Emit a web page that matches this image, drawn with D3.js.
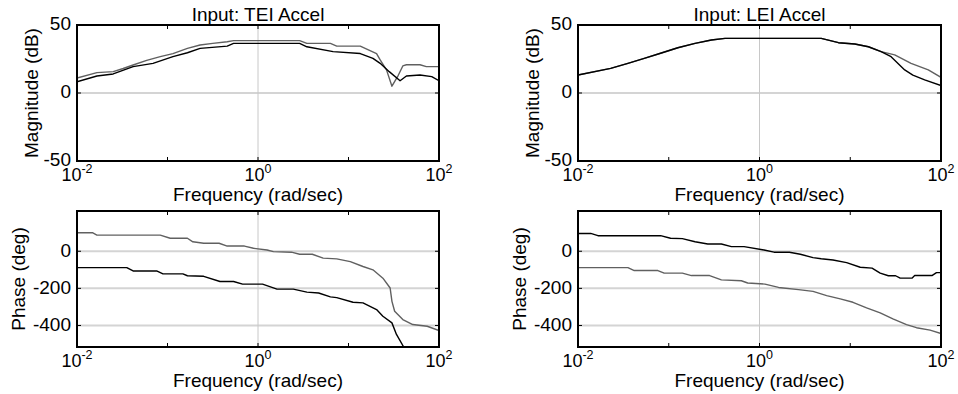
<!DOCTYPE html>
<html>
<head>
<meta charset="utf-8">
<script src="https://cdn.jsdelivr.net/npm/d3@7"></script>
<style>
  body { margin: 0; background: #fff; }
  svg text { font-family: Arial, "Liberation Sans", Helvetica, sans-serif; fill: #000; }
</style>
</head>
<body>
<svg width="958" height="394"></svg>
<script>
// frequencies are stored as log10(rad/sec)
const teiMagGrayW = [-2, -1.78, -1.6, -1.49, -1.38, -1.23, -1.08, -0.94, -0.78, -0.64, -0.5, -0.34, -0.27, 0, 0.46, 0.54, 0.8, 0.87, 1.13, 1.31, 1.35, 1.42, 1.48, 1.55, 1.6, 1.64, 1.79, 1.86, 2];
const teiMagGray  = [11, 15, 15.7, 18, 20.6, 24, 26.7, 29, 32.8, 35.3, 36.5, 37.7, 38.5, 38.5, 38.5, 36.5, 36.5, 34.5, 34.5, 29, 24.3, 17, 5, 13, 19.9, 20.8, 20.8, 19.4, 19.4];
const teiMagBlackW = [-2, -1.78, -1.6, -1.38, -1.16, -0.94, -0.78, -0.64, -0.34, -0.27, 0, 0.46, 0.54, 0.83, 1.13, 1.27, 1.35, 1.45, 1.57, 1.64, 1.79, 1.92, 2];
const teiMagBlack  = [8.3, 12.5, 14, 19.4, 21.8, 26.7, 29.6, 32.8, 34.5, 36.5, 36.5, 36.5, 34, 30.4, 29, 25.5, 21.8, 15.7, 9, 12.5, 13.2, 12, 9];

const leiMagW = [-2, -1.64, -1.45, -1.27, -1.09, -0.9, -0.71, -0.53, -0.38, 0, 0.68, 0.87, 1.05, 1.2, 1.34];
const leiMag  = [13.2, 18.1, 21.8, 25.5, 29.2, 33.3, 36.5, 39, 40.2, 40.2, 40.2, 37, 36, 34, 30.4];
const leiMagGrayTailW = [1.49, 1.67, 1.86, 2];
const leiMagGrayTail  = [28, 21.8, 17, 11.5];
const leiMagBlackTailW = [1.45, 1.6, 1.69, 1.82, 2];
const leiMagBlackTail  = [26.7, 17, 13.2, 9.6, 5.5];

const teiPhGrayW = [-2, -1.83, -1.78, -1.08, -0.97, -0.78, -0.72, -0.6, -0.43, -0.34, -0.15, -0.05, 0.1, 0.17, 0.37, 0.46, 0.6, 0.72, 0.87, 1.02, 1.16, 1.27, 1.38, 1.46, 1.48, 1.51, 1.6, 1.71, 1.87, 2];
const teiPhGray  = [100, 100, 87, 87, 70, 70, 51, 43, 43, 28, 28, 16, 7, -2, -5, -16, -16, -37, -41, -56, -82, -100, -145, -198, -270, -323, -368, -395, -404, -427];
const teiPhBlackW = [-2, -1.45, -1.38, -1.12, -1.05, -0.83, -0.78, -0.6, -0.42, -0.27, -0.17, 0.05, 0.21, 0.39, 0.54, 0.67, 0.8, 0.87, 1.05, 1.16, 1.31, 1.38, 1.48, 1.53, 1.61];
const teiPhBlack  = [-88, -88, -106, -106, -122, -122, -132, -135, -163, -163, -177, -177, -204, -204, -220, -225, -246, -250, -275, -278, -314, -350, -386, -448, -516];

const leiPhBlackW = [-2, -1.86, -1.78, -1.09, -0.98, -0.85, -0.71, -0.57, -0.42, -0.31, -0.17, 0.05, 0.16, 0.33, 0.45, 0.59, 0.68, 0.81, 0.96, 1.11, 1.24, 1.33, 1.42, 1.5, 1.55, 1.68, 1.71, 1.9, 1.95, 2];
const leiPhBlack  = [96, 96, 84, 84, 70, 68, 51, 39, 39, 25, 25, 7, -5, -5, -16, -34, -40, -47, -61, -86, -91, -118, -132, -132, -145, -145, -131, -131, -115, -115];
const leiPhGrayW = [-2, -1.45, -1.38, -1.12, -1.05, -0.85, -0.75, -0.55, -0.42, -0.2, -0.13, 0.06, 0.21, 0.43, 0.59, 0.74, 0.89, 1.03, 1.18, 1.33, 1.47, 1.62, 1.73, 1.88, 2];
const leiPhGray  = [-88, -88, -104, -104, -118, -118, -131, -131, -154, -159, -171, -177, -195, -207, -216, -239, -257, -275, -305, -332, -364, -395, -412, -425, -443];

const xTickExps = [-2, -1, 0, 1, 2];
const xLabelExps = [-2, 0, 2];
const magTicks = [-50, 0, 50];
const phaseTicks = [-400, -200, 0];

const BLACK = "#000", GRAY = "#606060";
const FONT = "19px";
const TICKFONT = "18px";

const svg = d3.select("svg");

function zip(ws, vs) { return ws.map((w, i) => [Math.pow(10, w), vs[i]]); }

const panels = [
  { left: 77, right: 439, top: 25, bottom: 161, domain: [-50, 50], ticks: magTicks,
    ylabel: "Magnitude (dB)", title: "Input: TEI Accel",
    series: [ { d: zip(teiMagGrayW, teiMagGray), c: GRAY }, { d: zip(teiMagBlackW, teiMagBlack), c: BLACK } ] },
  { left: 578, right: 941, top: 25, bottom: 161, domain: [-50, 50], ticks: magTicks,
    ylabel: "Magnitude (dB)", title: "Input: LEI Accel",
    series: [
      { d: zip(leiMagW.concat(leiMagGrayTailW), leiMag.concat(leiMagGrayTail)), c: GRAY },
      { d: zip(leiMagW.concat(leiMagBlackTailW), leiMag.concat(leiMagBlackTail)), c: BLACK } ] },
  { left: 77, right: 439, top: 211, bottom: 347, domain: [-516, 217], ticks: phaseTicks,
    ylabel: "Phase (deg)",
    series: [ { d: zip(teiPhGrayW, teiPhGray), c: GRAY }, { d: zip(teiPhBlackW, teiPhBlack), c: BLACK } ] },
  { left: 578, right: 941, top: 211, bottom: 347, domain: [-516, 217], ticks: phaseTicks,
    ylabel: "Phase (deg)",
    series: [ { d: zip(leiPhGrayW, leiPhGray), c: GRAY }, { d: zip(leiPhBlackW, leiPhBlack), c: BLACK } ] }
];

panels.forEach((p, i) => {
  const x = d3.scaleLog().domain([1e-2, 1e2]).range([p.left, p.right]);
  const y = d3.scaleLinear().domain(p.domain).range([p.bottom, p.top]);
  const g = svg.append("g");

  // grid
  g.selectAll(".hgrid")
    .data(p.ticks.filter(t => t > p.domain[0] && t < p.domain[1]))
    .enter().append("line")
    .attr("x1", p.left).attr("x2", p.right)
    .attr("y1", d => y(d)).attr("y2", d => y(d))
    .attr("stroke", "#d4d4d4").attr("stroke-width", 2);
  g.append("line")
    .attr("x1", x(1)).attr("x2", x(1))
    .attr("y1", p.top).attr("y2", p.bottom)
    .attr("stroke", "#c8c8c8").attr("stroke-width", 1);

  // data lines
  const clipId = "clip" + i;
  svg.append("clipPath").attr("id", clipId).append("rect")
    .attr("x", p.left).attr("y", p.top)
    .attr("width", p.right - p.left).attr("height", p.bottom - p.top);
  const line = d3.line().x(d => x(d[0])).y(d => y(d[1]));
  g.append("g").attr("clip-path", `url(#${clipId})`)
    .selectAll("path")
    .data(p.series)
    .enter().append("path")
    .attr("d", s => line(s.d))
    .attr("fill", "none")
    .attr("stroke", s => s.c)
    .attr("stroke-width", 1.4)
    .attr("stroke-linejoin", "round");

  // box
  g.append("rect")
    .attr("x", p.left).attr("y", p.top)
    .attr("width", p.right - p.left).attr("height", p.bottom - p.top)
    .attr("fill", "none").attr("stroke", "#000").attr("stroke-width", 2);

  // inner ticks
  const tl = 4;
  xTickExps.slice(1, -1).forEach(e => {
    const xx = x(Math.pow(10, e));
    g.append("line").attr("x1", xx).attr("x2", xx).attr("y1", p.top).attr("y2", p.top + tl).attr("stroke", "#000");
    g.append("line").attr("x1", xx).attr("x2", xx).attr("y1", p.bottom).attr("y2", p.bottom - tl).attr("stroke", "#000");
  });
  p.ticks.forEach(t => {
    const yy = y(t);
    g.append("line").attr("x1", p.right).attr("x2", p.right - tl).attr("y1", yy).attr("y2", yy).attr("stroke", "#000");
    g.append("line").attr("x1", p.left).attr("x2", p.left + tl).attr("y1", yy).attr("y2", yy).attr("stroke", "#000");
  });

  // y tick labels
  g.selectAll(".ylab")
    .data(p.ticks)
    .enter().append("text")
    .attr("x", p.left - 6)
    .attr("y", d => y(d) - 1.5)
    .attr("dy", "0.36em")
    .attr("text-anchor", "end")
    .style("font-size", FONT)
    .text(d => d);

  // x tick labels with superscripts
  xLabelExps.forEach(e => {
    const t = g.append("text")
      .attr("x", x(Math.pow(10, e)))
      .attr("y", p.bottom + 20)
      .attr("text-anchor", "middle")
      .style("font-size", TICKFONT);
    t.append("tspan").text("10");
    t.append("tspan").attr("dy", -8).style("font-size", "12.5px").text(e);
  });

  // axis labels
  g.append("text")
    .attr("x", (p.left + p.right) / 2)
    .attr("y", p.bottom + 39.5)
    .attr("text-anchor", "middle")
    .style("font-size", FONT)
    .text("Frequency (rad/sec)");

  const lx = p.ylabel.startsWith("Mag") ? p.left - 39 : p.left - 52;
  g.append("text")
    .attr("transform", `translate(${lx},${(p.top + p.bottom) / 2}) rotate(-90)`)
    .attr("text-anchor", "middle")
    .style("font-size", FONT)
    .text(p.ylabel);

  if (p.title) {
    g.append("text")
      .attr("x", (p.left + p.right) / 2)
      .attr("y", p.top - 4.5)
      .attr("text-anchor", "middle")
      .style("font-size", FONT)
      .text(p.title);
  }
});
</script>
</body>
</html>
